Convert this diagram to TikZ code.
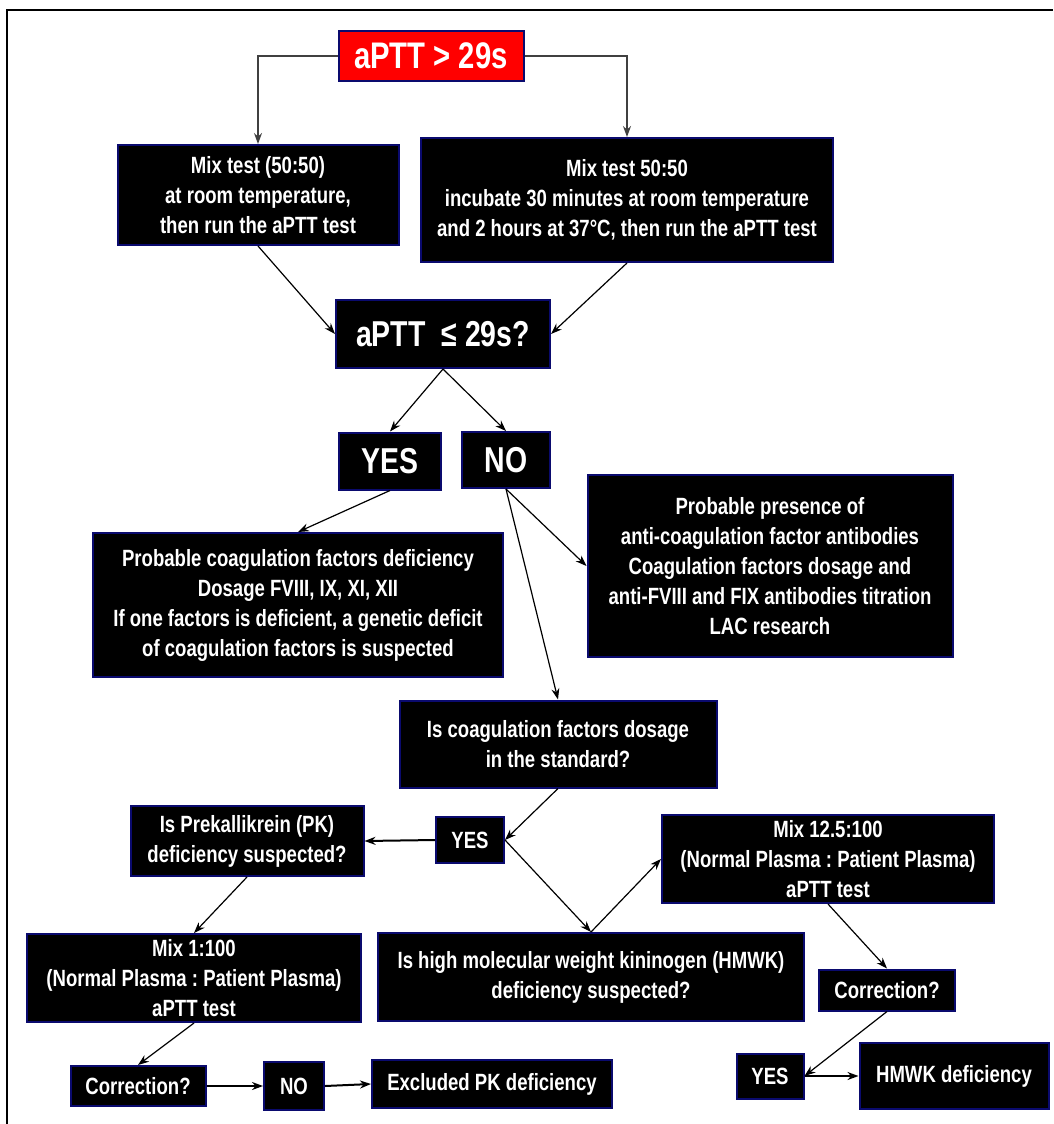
\documentclass[tikz,border=0pt]{standalone}
\usepackage{fontspec}
\setmainfont{Liberation Sans}[FakeStretch=0.79]
\usepackage{tikz}
\usepackage{xcolor}
\usetikzlibrary{arrows.meta}
\frenchspacing

\definecolor{boxline}{RGB}{10,10,110}
\definecolor{alarm}{RGB}{255,0,0}

\begin{document}
\begin{tikzpicture}[x=1pt, y=-1pt,
  box/.style={draw=boxline, line width=2pt, fill=black, text=white, inner sep=0pt,
    align=center, font=\bfseries\fontsize{23.5}{30}\selectfont},
  big/.style={font=\bfseries\fontsize{36}{40}\selectfont},
  arr/.style={-{Stealth[length=11pt,width=8pt]}, line width=1.2pt}]
\useasboundingbox (0,0) rectangle (1053,1124);
\draw[line width=2.5pt] (7,1124) -- (7,10) -- (1053,10);

\node[box, big, fill=alarm, minimum width=185pt, minimum height=50pt, font=\bfseries\fontsize{37}{40}\selectfont] (top) at (431,56) {aPTT > 29s};
\node[box, minimum width=281pt, minimum height=100pt] (mixA) at (258,195) {Mix test (50:50)\\at room temperature,\\then run the aPTT test};
\node[box, minimum width=412pt, minimum height=124pt] (mixB) at (627,200) {Mix test 50:50\\incubate 30 minutes at room temperature\\and 2 hours at 37°C, then run the aPTT test};
\node[box, big, minimum width=214pt, minimum height=68pt] (check) at (443,334) {aPTT\ \ ≤ 29s?};
\node[box, big, minimum width=102pt, minimum height=57pt] (yes1) at (390,461) {YES};
\node[box, big, minimum width=88pt, minimum height=56pt] (no1) at (506,460) {NO};
\node[box, minimum width=410pt, minimum height=144pt] (defic) at (298,605) {Probable coagulation factors deficiency\\Dosage FVIII, IX, XI, XII\\If one factors is deficient, a genetic deficit\\of coagulation factors is suspected};
\node[box, minimum width=365pt, minimum height=182pt] (antib) at (770,566) {Probable presence of\\anti-coagulation factor antibodies\\Coagulation factors dosage and\\anti-FVIII and FIX antibodies titration\\LAC research};
\node[box, minimum width=317pt, minimum height=87pt] (dosage) at (558,744) {Is coagulation factors dosage\\in the standard?};
\node[box, minimum width=68pt, minimum height=46pt] (yes2) at (470,840) {YES};
\node[box, minimum width=233pt, minimum height=70pt] (pk) at (247,841) {Is Prekallikrein (PK)\\deficiency suspected?};
\node[box, minimum width=332pt, minimum height=88pt] (mixC) at (828,859) {Mix 12.5:100\\(Normal Plasma : Patient Plasma)\\aPTT test};
\node[box, minimum width=426pt, minimum height=88pt] (hmwkq) at (591,977) {Is high molecular weight kininogen (HMWK)\\deficiency suspected?};
\node[box, minimum width=334pt, minimum height=88pt] (mixD) at (194,978) {Mix 1:100\\(Normal Plasma : Patient Plasma)\\aPTT test};
\node[box, minimum width=136pt, minimum height=41pt] (corrR) at (887,990) {Correction?};
\node[box, minimum width=67pt, minimum height=45pt] (yes3) at (770,1076) {YES};
\node[box, minimum width=189pt, minimum height=66pt] (hmwkdef) at (954,1076) {HMWK deficiency};
\node[box, minimum width=135pt, minimum height=40pt] (corrL) at (138,1086) {Correction?};
\node[box, minimum width=60pt, minimum height=48pt] (no2) at (294,1086) {NO};
\node[box, minimum width=240pt, minimum height=48pt] (exclPK) at (492,1084) {Excluded PK deficiency};

\draw[arr, black!75] (top.west) -| (mixA.north);
\draw[arr, black!75] (top.east) -| (mixB.north);
\draw[arr] (mixA.south) -- (check.west);
\draw[arr] (mixB.south) -- (check.east);
\draw[arr] (check.south) -- (yes1.north);
\draw[arr] (check.south) -- (no1.north);
\draw[arr] (yes1.south) -- (defic.north);
\draw[arr] (no1.south) -- (antib.west);
\draw[arr] (no1.south) -- (dosage.north);
\draw[arr] (dosage.south) -- (yes2.east);
\draw[arr, line width=2pt] (yes2.west) -- (pk.east);
\draw[arr] (yes2.east) -- (hmwkq.north);
\draw[arr] (hmwkq.north) -- (mixC.west);
\draw[arr] (mixC.south) -- (corrR.north);
\draw[arr] (corrR.south) -- (yes3.east);
\draw[arr, line width=2pt] (yes3.east) -- (hmwkdef.west);
\draw[arr] (pk.south) -- (mixD.north);
\draw[arr] (mixD.south) -- (corrL.north);
\draw[arr, line width=2pt] (corrL.east) -- (no2.west);
\draw[arr, line width=2pt] (no2.east) -- (exclPK.west);
\end{tikzpicture}
\end{document}
